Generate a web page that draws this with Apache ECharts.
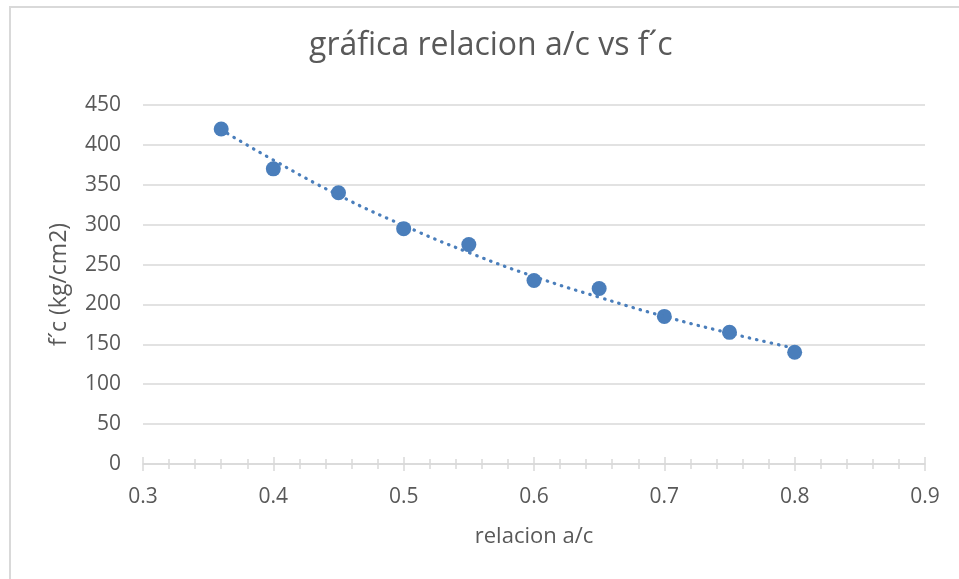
<!DOCTYPE html>
<html>
<head>
<meta charset="utf-8">
<script src="https://cdn.jsdelivr.net/npm/echarts@6/dist/echarts.min.js"></script>
<style>
html,body{margin:0;padding:0;background:#fff;}
#chart{width:959px;height:579px;}
</style>
</head>
<body>
<div id="chart"></div>
<script>
// data
var relacionAC = [0.36, 0.40, 0.45, 0.50, 0.55, 0.60, 0.65, 0.70, 0.75, 0.80];
var fc = [420, 370, 340, 295, 275, 230, 220, 185, 165, 140];
// dotted trendline, read at the same x positions
var trendFc = [419, 381, 337, 299, 265, 235, 209, 185, 164, 145];
var xTicks = [0.3, 0.4, 0.5, 0.6, 0.7, 0.8, 0.9];
var yTicks = [0, 50, 100, 150, 200, 250, 300, 350, 400, 450];

var titleText = 'gráfica relacion a/c vs f´c';
var xName = 'relacion a/c';
var yName = 'f´c (kg/cm2)';

var FONT = 'Open Sans';
var pts = relacionAC.map(function (x, i) { return [x, fc[i]]; });
var trend = relacionAC.map(function (x, i) { return [x, trendFc[i]]; });

var chart = echarts.init(document.getElementById('chart'), null, {renderer: 'canvas'});
chart.setOption({
  animation: false,
  backgroundColor: '#fff',
  graphic: [{
    type: 'polyline',
    shape: {points: [[10, 590], [10, 7], [970, 7]]},
    style: {stroke: '#d9d9d9', lineWidth: 2, fill: null},
    silent: true
  }],
  title: {
    text: titleText,
    left: 304,
    top: 25,
    textStyle: {fontFamily: FONT, fontSize: 32, fontWeight: 'normal', color: '#595959'}
  },
  grid: {left: 143, right: 34, top: 105, bottom: 115},
  xAxis: [{
    type: 'value',
    min: xTicks[0],
    max: xTicks[xTicks.length - 1],
    interval: 0.1,
    name: xName,
    nameLocation: 'middle',
    nameGap: 62,
    nameTextStyle: {fontFamily: FONT, fontSize: 22, color: '#595959'},
    axisLine: {show: true, lineStyle: {color: '#d9d9d9', width: 1.5}},
    axisTick: {show: true, length: 7, lineStyle: {color: '#d9d9d9', width: 1.5}},
    minorTick: {show: true, splitNumber: 5, length: 5, lineStyle: {color: '#d9d9d9', width: 1.5}},
    axisLabel: {fontFamily: FONT, fontSize: 21, color: '#595959', margin: 23,
      formatter: function (v) { return (Math.round(v * 10) / 10).toString(); }},
    splitLine: {show: false}
  }, {
    type: 'value',
    position: 'bottom',
    min: xTicks[0],
    max: xTicks[xTicks.length - 1],
    interval: 0.1,
    axisLine: {show: false},
    axisTick: {show: true, inside: true, length: 7, lineStyle: {color: '#d9d9d9', width: 1.5}},
    minorTick: {show: true, splitNumber: 5, length: 5, lineStyle: {color: '#d9d9d9', width: 1.5}},
    axisLabel: {show: false},
    splitLine: {show: false}
  }],
  yAxis: {
    type: 'value',
    min: yTicks[0],
    max: yTicks[yTicks.length - 1],
    interval: 50,
    name: yName,
    nameLocation: 'middle',
    nameRotate: 90,
    nameGap: 72,
    nameTextStyle: {fontFamily: FONT, fontSize: 23, color: '#595959'},
    axisLine: {show: false},
    axisTick: {show: false},
    axisLabel: {fontFamily: FONT, fontSize: 21, color: '#595959', margin: 22},
    splitLine: {show: true, lineStyle: {color: '#d9d9d9', width: 1.5}}
  },
  series: [{
    type: 'line',
    data: trend,
    smooth: true,
    symbol: 'none',
    z: 3,
    lineStyle: {color: '#4A7EBB', width: 3.2, type: [0.5, 7], cap: 'round'}
  }, {
    type: 'scatter',
    data: pts,
    symbolSize: 15,
    z: 2,
    itemStyle: {color: '#4A7EBB', opacity: 1}
  }]
});
</script>
</body>
</html>
